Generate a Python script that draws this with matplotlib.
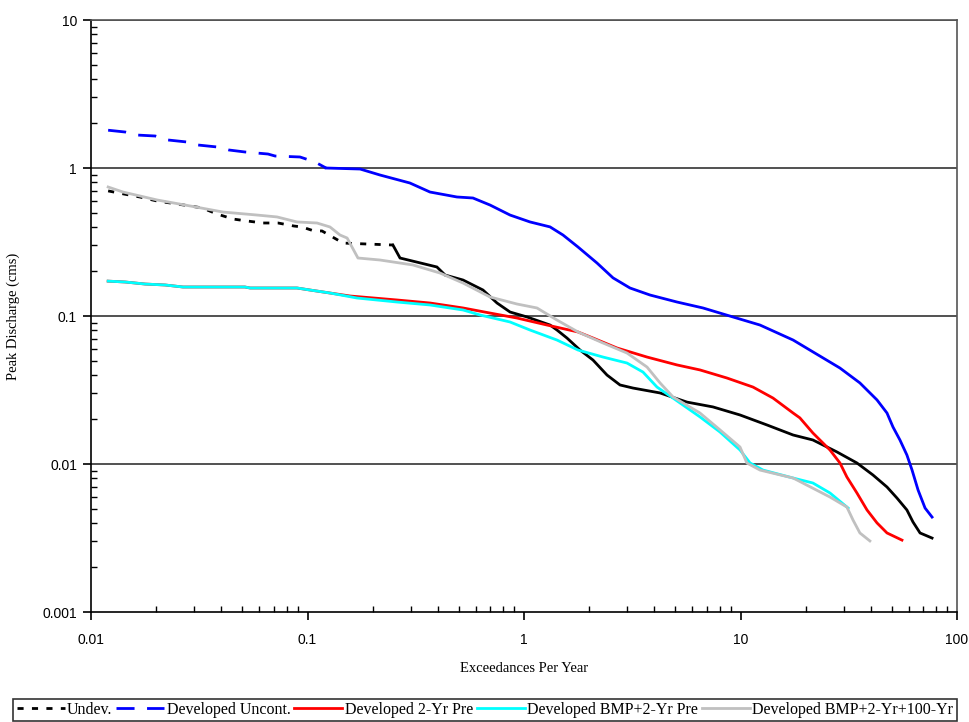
import matplotlib
matplotlib.use("Agg")
import matplotlib.pyplot as plt
from matplotlib.lines import Line2D
from matplotlib.ticker import LogLocator, NullFormatter, FixedLocator, FixedFormatter

plt.rcParams['font.family'] = ['Liberation Serif', 'DejaVu Serif']

# ---------------- data ----------------
# Developed Uncont. (blue)
unc_x = [0.012, 0.0144, 0.0163, 0.0198, 0.0227, 0.0278, 0.0312, 0.0382, 0.0434, 0.0514,
         0.0657, 0.0708, 0.0923, 0.1083, 0.1218, 0.175, 0.216, 0.297, 0.368, 0.490,
         0.581, 0.697, 0.862, 1.066, 1.319, 1.514, 1.776, 2.174, 2.577, 3.087,
         3.82, 5.09, 6.71, 9.23, 12.3, 17.5, 20.9, 28.8, 35.6, 42.7,
         47.5, 50.6, 54.5, 58.7, 62.0, 66.1, 71.2, 76.7]
unc_y = [1.80, 1.75, 1.67, 1.645, 1.546, 1.498, 1.43, 1.387, 1.323, 1.283,
         1.243, 1.205, 1.187, 1.098, 1.0, 0.984, 0.897, 0.792, 0.688, 0.637,
         0.627, 0.562, 0.481, 0.432, 0.400, 0.3525, 0.2925, 0.228, 0.181, 0.1546,
         0.1386, 0.1243, 0.1133, 0.0985, 0.0869, 0.0688, 0.0589, 0.0445, 0.0353, 0.0271,
         0.0221, 0.0178, 0.01453, 0.0115, 0.0091, 0.00667, 0.00504, 0.00438]
unc_dashed_until = 0.123

# Undev. (black)
und_x = [0.012, 0.0142, 0.0168, 0.0202, 0.0287, 0.0326, 0.0382, 0.0453, 0.0526, 0.0623,
         0.0731, 0.0866, 0.0943, 0.1072, 0.1167, 0.146, 0.248, 0.2675, 0.396, 0.432,
         0.523, 0.6465, 0.7505, 0.862, 1.033, 1.319, 1.42, 1.579, 1.814, 2.083,
         2.418, 2.776, 3.187, 4.25, 5.66, 7.46, 9.95, 13.26, 17.5, 21.6,
         27.9, 34.5, 40.9, 47.5, 52.8, 58.7, 62.6, 67.5, 76.7]
und_y = [0.70, 0.667, 0.637, 0.598, 0.554, 0.537, 0.489, 0.452, 0.4385, 0.425,
         0.425, 0.4055, 0.3995, 0.3754, 0.3754, 0.311, 0.3017, 0.2465, 0.2144, 0.1892,
         0.175, 0.1498, 0.1224, 0.1064, 0.0985, 0.0869, 0.0804, 0.071, 0.0589, 0.0504,
         0.0399, 0.0342, 0.0326, 0.0302, 0.0262, 0.0243, 0.02144, 0.01835, 0.0157, 0.01453,
         0.01206, 0.01016, 0.00843, 0.00699, 0.00589, 0.00489, 0.00406, 0.00342, 0.00316]
und_dashed_until = 0.25

# Developed 2-Yr Pre (red)
pre_x = [0.012, 0.0144, 0.0178, 0.022, 0.0266, 0.0514, 0.0543, 0.0894, 0.1027, 0.127,
         0.1572, 0.259, 0.368, 0.523, 0.697, 0.928, 1.277, 1.776, 2.083, 2.689,
         3.70, 5.09, 6.50, 8.66, 11.42, 14.13, 17.5, 18.8, 21.6, 25.9,
         28.8, 31.0, 34.5, 38.4, 42.7, 47.5, 55.7]
pre_y = [0.172, 0.1697, 0.1644, 0.162, 0.157, 0.157, 0.1546, 0.1546, 0.1498, 0.143,
         0.1365, 0.1283, 0.1224, 0.1133, 0.1047, 0.0969, 0.0869, 0.078, 0.071, 0.0608,
         0.0528, 0.0467, 0.0432, 0.0381, 0.0331, 0.0279, 0.0221, 0.0205, 0.0162, 0.01243,
         0.01016, 0.00817, 0.00637, 0.00489, 0.0040, 0.00342, 0.00306]

# Developed BMP+2-Yr Pre (cyan)
bmp_x = [0.012, 0.0144, 0.0178, 0.022, 0.0266, 0.0514, 0.0543, 0.0894, 0.1027, 0.127,
         0.1693, 0.259, 0.368, 0.523, 0.6265, 0.862, 1.066, 1.42, 1.776, 2.317,
         2.991, 3.545, 4.115, 4.877, 6.50, 8.04, 9.95, 11.07, 12.7, 17.5,
         21.6, 25.9, 31.4]
bmp_y = [0.172, 0.1697, 0.1644, 0.162, 0.157, 0.157, 0.1546, 0.1546, 0.1498, 0.143,
         0.1323, 0.1243, 0.1187, 0.1098, 0.1016, 0.0911, 0.0804, 0.0688, 0.0589, 0.0528,
         0.0481, 0.0418, 0.0331, 0.0279, 0.0208, 0.01645, 0.01243, 0.01016, 0.0091, 0.00804,
         0.00744, 0.00637, 0.00504]

# Developed BMP+2-Yr+100-Yr (gray)
b100_x = [0.012, 0.01405, 0.0202, 0.0287, 0.0407, 0.0585, 0.0723, 0.0894, 0.1106, 0.127,
          0.1413, 0.1524, 0.171, 0.216, 0.307, 0.409, 0.523, 0.697, 0.928, 1.148,
          1.42, 1.776, 2.317, 2.991, 3.70, 4.25, 4.877, 6.50, 8.04, 9.95,
          10.7, 12.3, 17.5, 25.9, 31.0, 33.1, 35.6, 39.6]
b100_y = [0.744, 0.688, 0.608, 0.554, 0.504, 0.481, 0.467, 0.432, 0.425, 0.3995,
          0.3525, 0.3365, 0.2465, 0.239, 0.2212, 0.1952, 0.167, 0.1344, 0.1205, 0.1133,
          0.0939, 0.078, 0.0657, 0.0562, 0.0452, 0.0353, 0.0284, 0.0221, 0.0170, 0.01302,
          0.01016, 0.0091, 0.00804, 0.00598, 0.00512, 0.00418, 0.00342, 0.00302]

labels = ["Undev.", "Developed Uncont.", "Developed 2-Yr Pre",
          "Developed BMP+2-Yr Pre", "Developed BMP+2-Yr+100-Yr"]
x_ticks = [0.01, 0.1, 1, 10, 100]
x_tick_labels = ["0.01", "0.1", "1", "10", "100"]
y_ticks = [0.001, 0.01, 0.1, 1, 10]
y_tick_labels = ["0.001", "0.01", "0.1", "1", "10"]

# ---------------- styles ----------------
C_UND, C_UNC, C_PRE, C_BMP, C_100 = "#000000", "#0000FF", "#FF0000", "#00FFFF", "#C0C0C0"
LW = 2.0
DASH_UNC = (6.5, 4.5)
DASH_UND = (2.2, 3.0)

fig = plt.figure(figsize=(9.69, 7.22), dpi=100)
ax = fig.add_axes([91/969, 1 - 612/722, (957 - 91)/969, (612 - 20)/722])
ax.set_xscale('log')
ax.set_yscale('log')
ax.set_xlim(0.01, 100)
ax.set_ylim(0.001, 10)


def split_plot(xs, ys, cut, color, dashes):
    i = max(k for k, v in enumerate(xs) if v <= cut)
    ax.plot(xs[:i + 1], ys[:i + 1], color=color, lw=LW, dashes=dashes,
            solid_capstyle='butt', dash_capstyle='butt', zorder=3)
    ax.plot(xs[i:], ys[i:], color=color, lw=LW, solid_joinstyle='miter', zorder=3)


split_plot(und_x, und_y, und_dashed_until, C_UND, DASH_UND)
split_plot(unc_x, unc_y, unc_dashed_until, C_UNC, DASH_UNC)
ax.plot(pre_x, pre_y, color=C_PRE, lw=LW, zorder=3)
ax.plot(bmp_x, bmp_y, color=C_BMP, lw=LW, zorder=3)
ax.plot(b100_x, b100_y, color=C_100, lw=LW, zorder=3)

for yv in y_ticks[1:]:
    ax.axhline(yv, color="#333333", lw=1.2, zorder=1)

ax.xaxis.set_major_locator(FixedLocator(x_ticks))
ax.xaxis.set_major_formatter(FixedFormatter(x_tick_labels))
ax.yaxis.set_major_locator(FixedLocator(y_ticks))
ax.yaxis.set_major_formatter(FixedFormatter(y_tick_labels))
ax.xaxis.set_minor_locator(LogLocator(base=10, subs=range(2, 10)))
ax.yaxis.set_minor_locator(LogLocator(base=10, subs=range(2, 10)))
ax.xaxis.set_minor_formatter(NullFormatter())
ax.yaxis.set_minor_formatter(NullFormatter())
ax.tick_params(which='major', direction='out', length=6, width=1.2, labelsize=10, pad=4)
ax.tick_params(axis='x', which='major', pad=9)
ax.tick_params(which='minor', direction='in', length=4, width=1)
for lab in ax.get_xticklabels() + ax.get_yticklabels():
    lab.set_family(['Liberation Sans', 'DejaVu Sans'])

for side in ['left', 'bottom']:
    ax.spines[side].set_color('black')
    ax.spines[side].set_linewidth(1.2)
for side in ['top', 'right']:
    ax.spines[side].set_color('#555555')
    ax.spines[side].set_linewidth(1.2)

ax.set_xlabel("Exceedances Per Year", fontsize=10.5, labelpad=11)
ax.set_ylabel("Peak Discharge (cms)", fontsize=10.5, labelpad=16)

handles = [
    Line2D([], [], color=C_UND, lw=LW, dashes=DASH_UND),
    Line2D([], [], color=C_UNC, lw=LW, dashes=DASH_UNC),
    Line2D([], [], color=C_PRE, lw=LW),
    Line2D([], [], color=C_BMP, lw=LW),
    Line2D([], [], color=C_100, lw=LW),
]
leg = fig.legend(handles, labels, loc='lower center',
                 bbox_to_anchor=(485/969, 1/722),
                 ncol=5, fontsize=11.5, frameon=True, fancybox=False,
                 handlelength=3.0, handletextpad=0.15, columnspacing=0.25,
                 borderpad=0.2, borderaxespad=0.0)
leg.get_frame().set_edgecolor('black')
leg.get_frame().set_linewidth(1.2)

fig.savefig("out.png", dpi=100)
